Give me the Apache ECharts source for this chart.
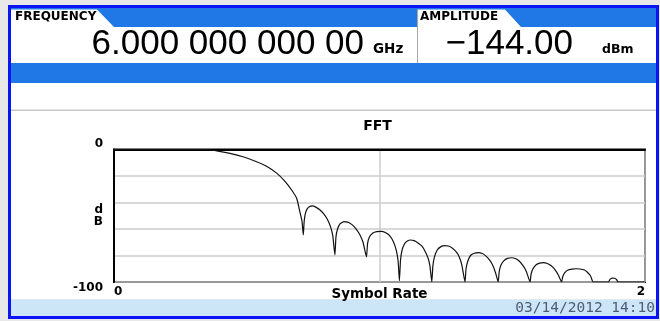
<!DOCTYPE html>
<html>
<head>
<meta charset="utf-8">
<script src="https://cdn.jsdelivr.net/npm/echarts@6/dist/echarts.min.js"></script>
<style>
html,body{margin:0;padding:0;background:#e8e8e8;}
#c{width:660px;height:321px;}
</style>
</head>
<body>
<div id="c"></div>
<script>
// ---- data ----
const chartTitle = 'FFT';
const xAxisName = 'Symbol Rate';
const yAxisName = 'd\nB';
const xMin = 0, xMax = 2, xInterval = 1;
const yMin = -100, yMax = 0, yInterval = 20;
const yTickLabels = {'0': '0', '-100': '-100'};
const xTickLabels = {'0': '0', '2': '2'};
const frequencyLabel = 'FREQUENCY';
const frequencyValue = '6.000 000 000 00';
const frequencyUnit = 'GHz';
const amplitudeLabel = 'AMPLITUDE';
const amplitudeValue = '\u2212144.00';
const amplitudeUnit = 'dBm';
const timestamp = '03/14/2012 14:10';

// main lobe
const mainX  = [0, 0.35, 0.392, 0.437, 0.486, 0.537, 0.576, 0.614, 0.644, 0.667, 0.688, 0.70, 0.708, 0.713];
const mainDb = [0, 0, -1.2, -2.9, -5.5, -9.2, -12.8, -18, -24, -30, -36.8, -46.9, -54, -64.5];
// side lobes
const sideX  = [0.716, 0.720, 0.727, 0.737, 0.747, 0.76, 0.775, 0.79, 0.803, 0.815, 0.824, 0.832,
                0.836, 0.842, 0.852, 0.866, 0.88, 0.895, 0.91, 0.925, 0.938, 0.951,
                0.955, 0.962, 0.975, 0.99, 1.006, 1.022, 1.038, 1.052, 1.063, 1.07, 1.075,
                1.079, 1.085, 1.095, 1.105, 1.117, 1.13, 1.145, 1.16, 1.172, 1.183, 1.19, 1.197,
                1.201, 1.207, 1.217, 1.23, 1.245, 1.26, 1.275, 1.29, 1.30, 1.31, 1.322,
                1.326, 1.333, 1.343, 1.357, 1.372, 1.387, 1.40, 1.415, 1.427, 1.437, 1.447,
                1.451, 1.458, 1.468, 1.482, 1.498, 1.512, 1.525, 1.54, 1.553, 1.567,
                1.571, 1.578, 1.59, 1.603, 1.617, 1.632, 1.647, 1.66, 1.673, 1.686,
                1.69, 1.698, 1.71, 1.725, 1.74, 1.755, 1.77, 1.782, 1.795, 1.805,
                1.862, 1.868, 1.876, 1.886, 1.894, 1.898, 2.0];
const sideDb = [-55, -49, -45, -43, -42.6, -43.5, -45.5, -48.5, -52.5, -58, -65, -79.6,
                -66, -60, -56, -54.5, -54.8, -56.5, -59.5, -64, -70, -81,
                -71, -66, -63, -62, -61.8, -62.7, -65, -69.5, -76, -84, -99,
                -84, -76, -71, -69, -68.3, -68.8, -70.5, -73, -77, -82, -88, -100,
                -88, -81, -76, -73.5, -72.6, -72.8, -74.5, -77.5, -81, -87, -100,
                -90, -84, -80, -78.3, -77.9, -78.5, -80.3, -83.5, -87.5, -93, -100,
                -92, -87, -84, -82.2, -81.7, -82.3, -84, -87.5, -92, -100,
                -94, -90, -87, -85.7, -85.4, -86, -87.8, -90.5, -94.5, -100,
                -96, -93, -91, -90.3, -90, -90.2, -90.8, -92.5, -95.5, -100,
                -100, -98, -97, -97.2, -98.5, -100, -100];

const symbolRate = mainX.concat(sideX);
const levelDb = mainDb.concat(sideDb);
const seriesData = symbolRate.map((x, i) => [x, levelDb[i]]);

const BLUE = '#1f78e6';
const BORDER_BLUE = '#0a14f5';
const FONT = 'DejaVu Sans';

const chart = echarts.init(document.getElementById('c'), null, {renderer: 'canvas'});
chart.setOption({
  backgroundColor: '#e8e8e8',
  animation: false,
  graphic: [
    {type: 'rect', z: -10, shape: {x: 11, y: 8, width: 645, height: 308}, style: {fill: '#ffffff'}},
    {type: 'rect', z: -9, shape: {x: 9.5, y: 6.5, width: 648, height: 311}, style: {fill: 'none', stroke: BORDER_BLUE, lineWidth: 3}},
    {type: 'rect', z: -8, shape: {x: 11, y: 8, width: 645, height: 19}, style: {fill: BLUE}},
    {type: 'polygon', z: -7, shape: {points: [[11, 9.5], [97, 9.5], [114, 27], [11, 27]]}, style: {fill: '#ffffff'}},
    {type: 'polygon', z: -7, shape: {points: [[418, 9.5], [505, 9.5], [521, 27], [418, 27]]}, style: {fill: '#ffffff'}},
    {type: 'line', z: -6, shape: {x1: 417.5, y1: 9.5, x2: 417.5, y2: 63}, style: {stroke: '#a8a8a8', lineWidth: 1}},
    {type: 'rect', z: -8, shape: {x: 11, y: 63, width: 645, height: 20}, style: {fill: BLUE}},
    {type: 'rect', z: -8, shape: {x: 11, y: 109.5, width: 645, height: 1.5}, style: {fill: '#c8c8c8'}},
    {type: 'rect', z: -8, shape: {x: 11, y: 300, width: 645, height: 16}, style: {fill: '#cce6f8'}},
    {type: 'rect', z: -8, shape: {x: 11, y: 299, width: 645, height: 1}, style: {fill: '#dde8f0'}},
    {type: 'text', z: 5, left: 15, top: 11, style: {text: frequencyLabel, font: 'bold 12px "DejaVu Sans"', fill: '#000'}},
    {type: 'text', z: 5, left: 420, top: 11, style: {text: amplitudeLabel, font: 'bold 12px "DejaVu Sans"', fill: '#000'}},
    {type: 'text', z: 5, x: 364, y: 44.5, style: {text: frequencyValue, font: '35px "Liberation Sans"', fill: '#000', align: 'right', verticalAlign: 'middle'}},
    {type: 'text', z: 5, x: 373, y: 49.5, style: {text: frequencyUnit, font: 'bold 13.5px "DejaVu Sans"', fill: '#000', align: 'left', verticalAlign: 'middle'}},
    {type: 'text', z: 5, x: 573, y: 44.5, style: {text: amplitudeValue, font: '35px "Liberation Sans"', fill: '#000', align: 'right', verticalAlign: 'middle'}},
    {type: 'text', z: 5, x: 602, y: 49.5, style: {text: amplitudeUnit, font: 'bold 12.5px "DejaVu Sans"', fill: '#000', align: 'left', verticalAlign: 'middle'}},
    {type: 'text', z: 5, x: 655, y: 308, style: {text: timestamp, font: '14.5px "DejaVu Sans Mono"', fill: '#4f5b78', align: 'right', verticalAlign: 'middle'}}
  ],
  title: {
    text: chartTitle,
    left: 377.5,
    top: 119,
    textAlign: 'center',
    padding: 0,
    textStyle: {fontFamily: FONT, fontWeight: 'bold', fontSize: 14, color: '#000'}
  },
  grid: {
    left: 114, top: 149.5, right: 15, bottom: 39,
    show: true, borderColor: '#000', borderWidth: 2, backgroundColor: 'transparent',
    containLabel: false
  },
  xAxis: {
    type: 'value', min: xMin, max: xMax, interval: xInterval,
    name: xAxisName, nameLocation: 'middle', nameGap: 5, nameMoveOverlap: false,
    nameTextStyle: {fontFamily: FONT, fontWeight: 'bold', fontSize: 13.5, color: '#000', verticalAlign: 'top'},
    axisLine: {show: true, lineStyle: {color: '#000', width: 2}},
    axisTick: {show: false},
    splitLine: {show: true, lineStyle: {color: '#cccccc', width: 1.5}},
    axisLabel: {
      margin: 4, fontFamily: FONT, fontWeight: 'bold', fontSize: 12, color: '#000',
      alignMinLabel: 'left', alignMaxLabel: 'right',
      formatter: v => xTickLabels[String(v)] || ''
    }
  },
  yAxis: {
    type: 'value', min: yMin, max: yMax, interval: yInterval,
    name: yAxisName, nameLocation: 'middle', nameGap: 11, nameRotate: 0, nameMoveOverlap: false,
    nameTextStyle: {fontFamily: FONT, fontWeight: 'bold', fontSize: 12, color: '#000', lineHeight: 12, height: 37, verticalAlign: 'middle'},
    axisLine: {show: true, lineStyle: {color: '#000', width: 2}},
    axisTick: {show: false},
    splitLine: {show: true, lineStyle: {color: '#cccccc', width: 1.5}},
    axisLabel: {
      margin: 11, fontFamily: FONT, fontWeight: 'bold', fontSize: 12, color: '#000',
      verticalAlignMinLabel: 'top', verticalAlignMaxLabel: 'bottom',
      formatter: v => yTickLabels[String(v)] || ''
    }
  },
  series: [{
    type: 'line',
    data: seriesData,
    showSymbol: false,
    smooth: 0.15,
    clip: true,
    lineStyle: {color: '#111', width: 1.2}
  }]
});
</script>
</body>
</html>
